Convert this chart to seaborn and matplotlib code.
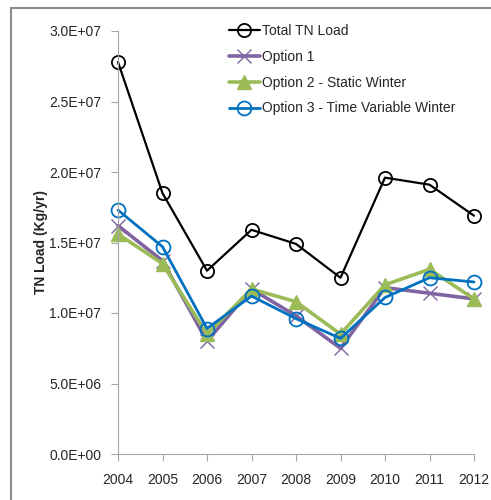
import matplotlib
matplotlib.use("Agg")
import matplotlib.pyplot as plt
from matplotlib.patches import Rectangle
from matplotlib.ticker import FuncFormatter, MultipleLocator
import pandas as pd
import seaborn as sns

years = [2004, 2005, 2006, 2007, 2008, 2009, 2010, 2011, 2012]
total_tn = [27.8e6, 18.5e6, 13.0e6, 15.9e6, 14.9e6, 12.5e6, 19.6e6, 19.1e6, 16.9e6]
option1 = [16.2e6, 13.7e6, 8.0e6, 11.7e6, 9.8e6, 7.5e6, 11.8e6, 11.4e6, 11.0e6]
option2 = [15.6e6, 13.5e6, 8.5e6, 11.7e6, 10.8e6, 8.5e6, 12.0e6, 13.1e6, 11.0e6]
option3 = [17.3e6, 14.7e6, 8.9e6, 11.2e6, 9.6e6, 8.2e6, 11.1e6, 12.5e6, 12.2e6]

series_names = ["Total TN Load", "Option 1", "Option 2 - Static Winter",
                "Option 3 - Time Variable Winter"]

sns.set_style("white")
plt.rcParams["font.family"] = ["Liberation Sans", "DejaVu Sans"]

fig = plt.figure(figsize=(4.91, 5.0), dpi=100)
ax = fig.add_axes([118 / 491, 1 - 454 / 500, 356 / 491, 423 / 500])

# outer chart frame (runs off the right and bottom edges)
fig.patches.append(Rectangle((11 / 491, -0.1), 1.2, 1.1 - 8 / 500,
                             transform=fig.transFigure, fill=False,
                             edgecolor="#8c8c8c", linewidth=1.5, clip_on=False))

styles = [
    dict(color="black", lw=1.6, marker="o", ms=9.5, mfc="none", mec="black", mew=1.3),
    dict(color="#8064A2", lw=2.6, marker="x", ms=9.5, mfc="none", mec="#8064A2", mew=1.0),
    dict(color="#9BBB59", lw=2.6, marker="^", ms=9.5, mfc="#9BBB59", mec="#9BBB59", mew=1.0),
    dict(color="#0070C0", lw=2.0, marker="o", ms=10, mfc="none", mec="#0070C0", mew=1.3),
]

for name, vals, st in zip(series_names, [total_tn, option1, option2, option3], styles):
    df = pd.DataFrame({"Year": years, "Load": vals})
    sns.lineplot(data=df, x="Year", y="Load", ax=ax, label=name,
                 color=st["color"], linewidth=st["lw"], marker=st["marker"],
                 markersize=st["ms"], markerfacecolor=st["mfc"],
                 markeredgecolor=st["mec"], markeredgewidth=st["mew"],
                 clip_on=False)

ax.set_xlim(2004, 2012)
ax.set_ylim(0, 3.0e7)
ax.set_xticks(years)
ax.yaxis.set_major_locator(MultipleLocator(5e6))
ax.yaxis.set_major_formatter(FuncFormatter(lambda v, p: f"{v:.1E}"))
ax.tick_params(axis="both", labelsize=10, colors="#a6a6a6", length=5,
               width=0.8, direction="out", bottom=True, left=True,
               labelcolor="#262626")
ax.tick_params(axis="x", pad=9)
ax.tick_params(axis="y", pad=7)
for s in ["top", "right"]:
    ax.spines[s].set_visible(False)
for s in ["left", "bottom"]:
    ax.spines[s].set_color("#a6a6a6")
    ax.spines[s].set_linewidth(0.8)
ax.set_xlabel("")
ax.set_ylabel("TN Load (Kg/yr)", fontsize=10, fontweight="bold", labelpad=1)
ax.grid(False)

leg = ax.legend(loc="upper left", bbox_to_anchor=(229 / 491, 1 - 24 / 500),
                bbox_transform=fig.transFigure, frameon=False, fontsize=10,
                handlelength=2.2, handletextpad=0.15, labelspacing=0.85,
                borderaxespad=0, borderpad=0)
for t in leg.get_texts():
    t.set_color("#262626")

fig.savefig("out.png", dpi=100)
